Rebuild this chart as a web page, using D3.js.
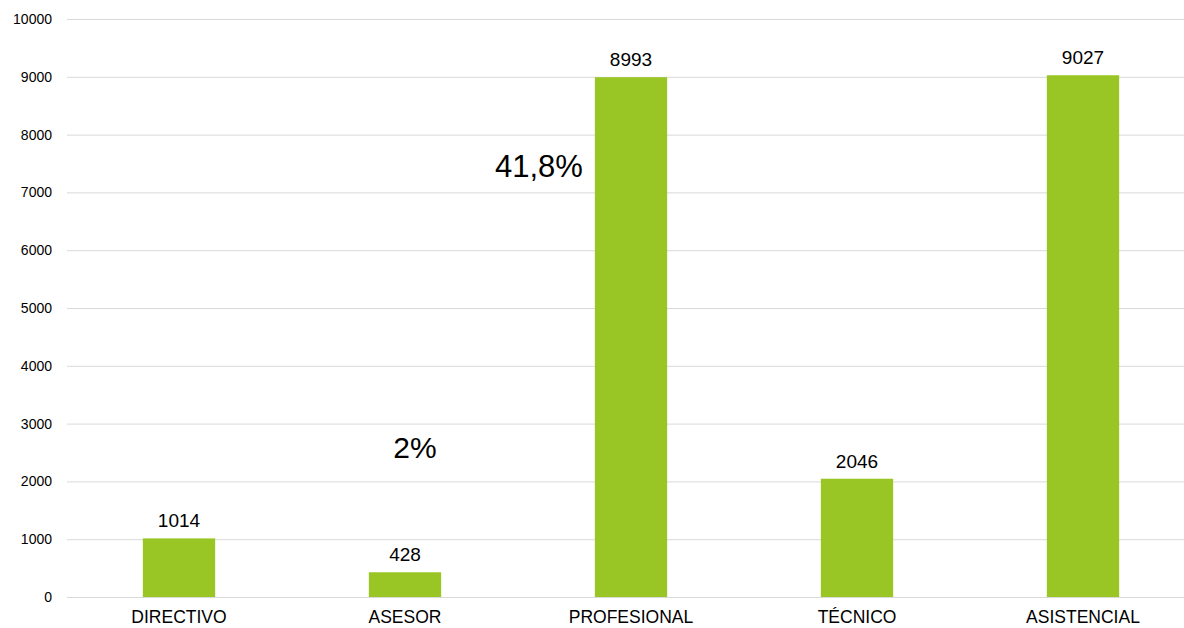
<!DOCTYPE html>
<html><head><meta charset="utf-8">
<script src="https://cdn.jsdelivr.net/npm/d3@7"></script>
<style>body{margin:0;background:#fff}svg{display:block;font-family:"Liberation Sans",Arial,sans-serif}</style>
</head><body><svg id="c" width="1184" height="628"></svg>
<script>
const categories = ["DIRECTIVO","ASESOR","PROFESIONAL","TÉCNICO","ASISTENCIAL"];
const values = [1014, 428, 8993, 2046, 9027];
const yTicks = [0,1000,2000,3000,4000,5000,6000,7000,8000,9000,10000];

const svg = d3.select("#c");
const x = d3.scaleBand().domain(categories).range([66, 1196]).paddingInner(0.68).paddingOuter(0.34);
const y = d3.scaleLinear().domain([0,10000]).range([597, 19]);

svg.append("g").selectAll("line").data(yTicks).join("line")
  .attr("x1", 67).attr("x2", 1184).attr("y1", d=>y(d)+0.5).attr("y2", d=>y(d)+0.5)
  .attr("stroke", "#d9d9d9").attr("stroke-width", 1);
svg.append("g").selectAll("text").data(yTicks).join("text")
  .attr("x", 52).attr("y", d=>y(d)).attr("dy","0.35em").attr("text-anchor","end")
  .attr("font-size", 14).attr("fill","#000").text(d=>d);

svg.append("g").selectAll("rect").data(values).join("rect")
  .attr("x", (d,i)=>x(categories[i])).attr("width", x.bandwidth())
  .attr("y", d=>y(d)).attr("height", d=>y(0)-y(d)).attr("fill", "#99c624");

svg.append("g").selectAll("text").data(values).join("text")
  .attr("x", (d,i)=>x(categories[i])+x.bandwidth()/2).attr("y", d=>y(d)-11)
  .attr("text-anchor","middle").attr("font-size", 19).attr("fill","#000").text(d=>d);

svg.append("g").selectAll("text").data(categories).join("text")
  .attr("x", d=>x(d)+x.bandwidth()/2).attr("y", 623)
  .attr("text-anchor","middle").attr("font-size", 17.5).attr("fill","#000").text(d=>d);

svg.append("text").attr("x", x("ASESOR")+x.bandwidth()/2+10).attr("y", 458)
  .attr("text-anchor","middle").attr("font-size", 30).text("2%");
svg.append("text").attr("x", x("PROFESIONAL")-12).attr("y", 177)
  .attr("text-anchor","end").attr("font-size", 31).text("41,8%");
</script></body></html>
